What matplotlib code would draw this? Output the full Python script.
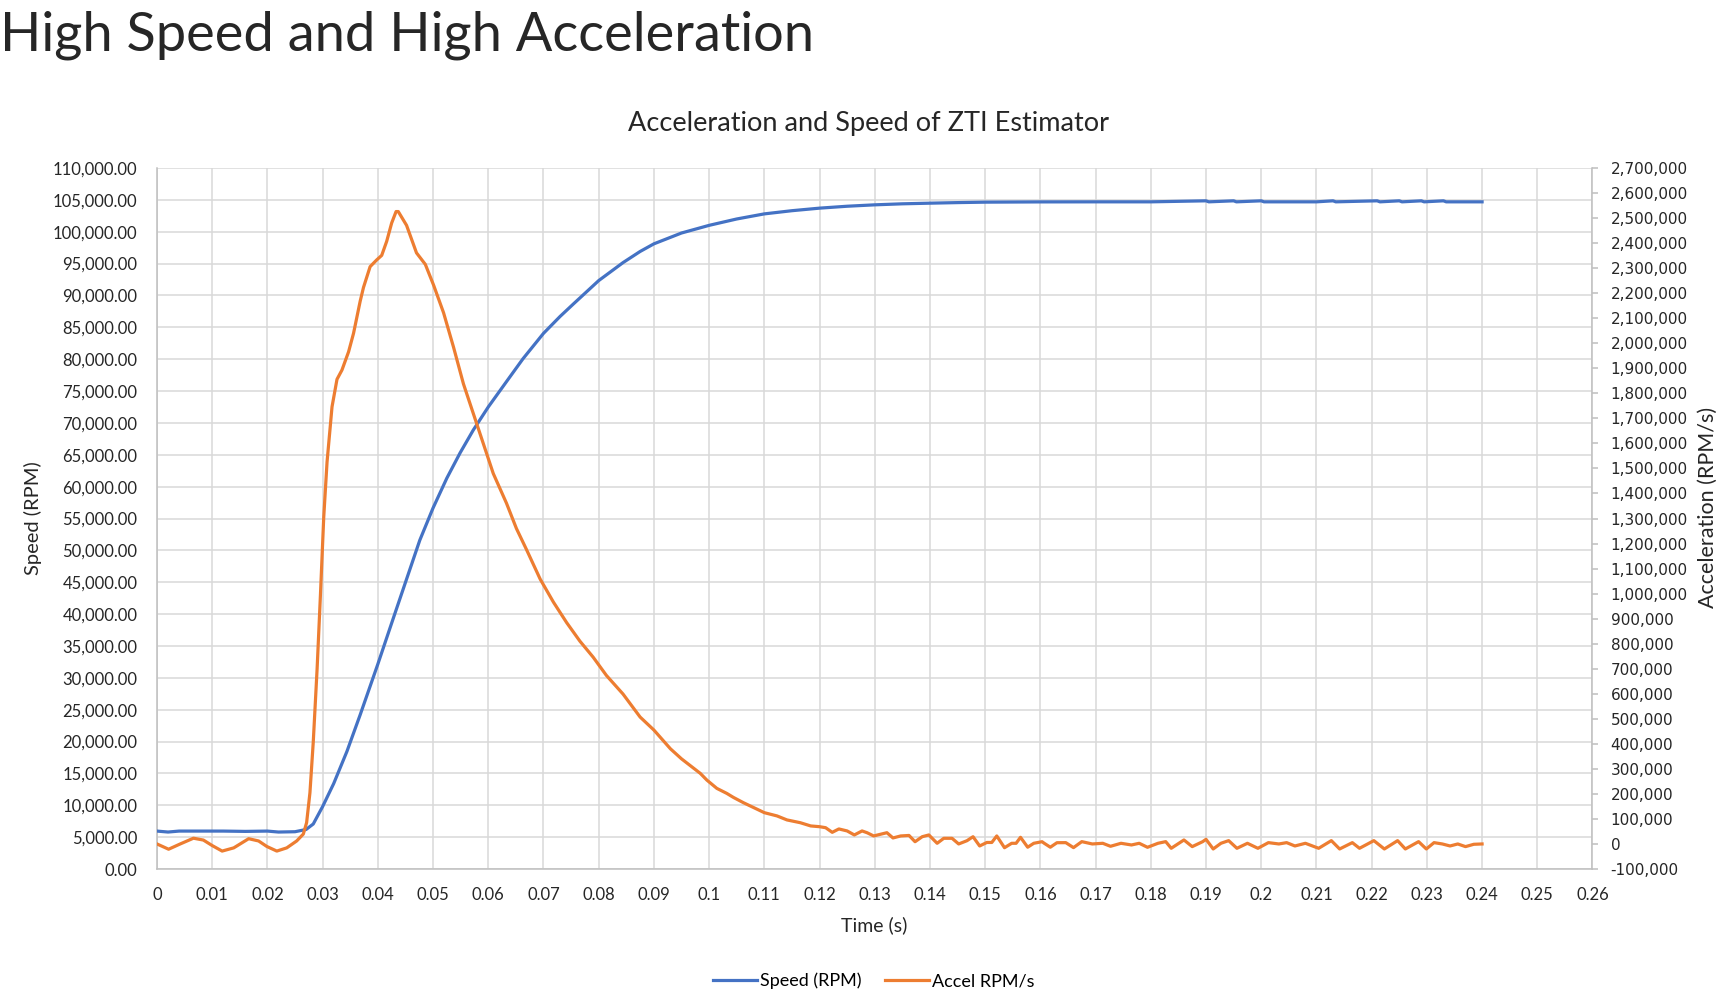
import matplotlib
matplotlib.use("Agg")
import matplotlib.pyplot as plt
from matplotlib.ticker import FuncFormatter, MultipleLocator

# Speed (RPM) samples
speed_t = [0, 0.002, 0.004, 0.008, 0.012, 0.016, 0.020, 0.022, 0.025, 0.027,
           0.0283, 0.030, 0.032, 0.0344, 0.0368, 0.040, 0.0428, 0.0452, 0.0476,
           0.050, 0.0525, 0.0549, 0.0573, 0.060, 0.0633, 0.0663, 0.070, 0.073,
           0.0754, 0.080, 0.0844, 0.0875, 0.090, 0.095, 0.100, 0.105, 0.110,
           0.115, 0.120, 0.125, 0.130, 0.135, 0.140, 0.145, 0.150, 0.160, 0.170,
           0.180, 0.190, 0.1905, 0.195, 0.1955, 0.200, 0.2005, 0.210, 0.213,
           0.2135, 0.221, 0.2215, 0.225, 0.2255, 0.229, 0.2295, 0.233, 0.2335, 0.240]
speed = [5950, 5800, 5950, 5950, 5950, 5900, 5950, 5800, 5850, 6200,
         7060, 9800, 13400, 18450, 24200, 32150, 39350, 45480, 51600,
         56650, 61340, 65300, 68900, 72500, 76480, 80080, 84050, 86700,
         88650, 92330, 95150, 96900, 98100, 99800, 101000, 102000, 102800,
         103300, 103700, 104000, 104220, 104380, 104480, 104570, 104640, 104680, 104690,
         104690, 104850, 104690, 104850, 104690, 104850, 104690, 104690, 104850,
         104690, 104850, 104690, 104850, 104690, 104850, 104690, 104850, 104690, 104690]

# Acceleration (RPM/s) samples
accel_t = [0, 0.0021, 0.0042, 0.0066, 0.0084, 0.010, 0.0118, 0.0139, 0.0166, 0.0184,
           0.0199, 0.0217, 0.0235, 0.0253, 0.0265, 0.0271, 0.0277, 0.0283, 0.029, 0.0296,
           0.0302, 0.0308, 0.0317, 0.0326, 0.0335, 0.0347, 0.0356, 0.0368, 0.0374, 0.0386,
           0.0398, 0.0407, 0.0416, 0.0425, 0.0433, 0.0437, 0.0452, 0.047, 0.0486, 0.0501,
           0.0519, 0.0537, 0.0555, 0.0573, 0.0591, 0.0609, 0.0633, 0.0651, 0.0669, 0.0694,
           0.0718, 0.0742, 0.0766, 0.079, 0.0814, 0.0844, 0.0875, 0.090, 0.093, 0.095,
           0.0984, 0.0996, 0.1014, 0.1032, 0.1044, 0.1062, 0.1081, 0.110, 0.1123, 0.1141,
           0.1165, 0.1184, 0.120, 0.1211, 0.1223, 0.1235, 0.125, 0.1263, 0.1277, 0.1286,
           0.1298, 0.1316, 0.1322, 0.1333, 0.1347, 0.1362, 0.1373, 0.1386, 0.1398, 0.1413,
           0.1425, 0.144, 0.1452, 0.1467, 0.1478, 0.149, 0.1503, 0.1512, 0.1521, 0.1535,
           0.1548, 0.1556, 0.1564, 0.1577, 0.1588, 0.1603, 0.1607, 0.1618, 0.163, 0.1646,
           0.166, 0.1675, 0.1694, 0.1713, 0.1727, 0.1746, 0.1765, 0.1779, 0.1794, 0.1813,
           0.1827, 0.1837, 0.186, 0.1875, 0.1894, 0.190, 0.1913, 0.1927, 0.1941, 0.1956,
           0.1975, 0.1994, 0.2013, 0.2032, 0.2046, 0.2061, 0.208, 0.2104, 0.2127, 0.2142,
           0.2165, 0.2178, 0.2204, 0.2223, 0.2247, 0.2261, 0.2285, 0.2299, 0.2313, 0.2328,
           0.2342, 0.2356, 0.237, 0.2385, 0.240]
accel = [0, -21000, 0, 23000, 15600, -6400, -28400, -15600, 21000, 12000,
         -10100, -28400, -15600, 12000, 39500, 85300, 204600, 406500, 700000, 993700,
         1305600, 1525800, 1746000, 1856000, 1893000, 1966000, 2040000, 2168000, 2223000, 2306000,
         2333000, 2351000, 2407000, 2480000, 2526000, 2526000, 2471000, 2361000, 2315000, 2232000,
         2122000, 1985000, 1838000, 1719000, 1599000, 1480000, 1361000, 1260000, 1177000, 1058000,
         966000, 884000, 810000, 746000, 673000, 599000, 507000, 455000, 380000, 340000,
         282000, 255000, 222000, 202000, 186000, 165000, 145000, 125000, 112000, 96000,
         85000, 72000, 69000, 65000, 46500, 60000, 52000, 36000, 52000, 45000,
         32000, 42000, 45000, 24000, 32000, 34000, 9000, 29000, 36000, 2700,
         22600, 22600, 0, 13000, 29000, -8000, 6000, 6000, 32000, -15000,
         2700, 2700, 26600, -13000, 2700, 9000, 2700, -13000, 5000, 5300,
         -14600, 9300, 0, 2700, -9300, 2700, -4000, 2700, -13300, 2700,
         9300, -17300, 16000, -10600, 9300, 18600, -20000, 2700, 13300, -17300,
         2700, -17300, 5300, 0, 5300, -8000, 2700, -17300, 13300, -20000,
         5300, -17300, 13300, -20000, 13300, -20000, 9300, -20000, 5300, 0,
         -8000, 0, -10600, -1300, 0]

BLUE = "#4472C4"
ORANGE = "#ED7D31"
GRID = "#d9d9d9"
AXIS = "#bfbfbf"
FONT = "Lato"

W, H = 1725, 998
fig = plt.figure(figsize=(W / 100, H / 100), dpi=100)
L, R, T, B = 157, 1592.5, 168, 869
ax = fig.add_axes([L / W, 1 - B / H, (R - L) / W, (B - T) / H])
ax2 = ax.twinx()

ax.plot(speed_t, speed, color=BLUE, lw=2.3, label="Speed (RPM)", zorder=3)
ax2.plot(accel_t, accel, color=ORANGE, lw=2.3, label="Accel RPM/s", zorder=3)

ax.set_xlim(0, 0.26)
ax.set_ylim(0, 110000)
ax2.set_ylim(-100000, 2700000)
ax.xaxis.set_major_locator(MultipleLocator(0.01))
ax.yaxis.set_major_locator(MultipleLocator(5000))
ax2.yaxis.set_major_locator(MultipleLocator(100000))
ax.xaxis.set_major_formatter(FuncFormatter(lambda v, p: "%g" % round(v, 2)))
ax.yaxis.set_major_formatter(FuncFormatter(lambda v, p: "{:,.2f}".format(v)))
ax2.yaxis.set_major_formatter(FuncFormatter(lambda v, p: "{:,.0f}".format(v)))

ax.grid(True, color=GRID, lw=1.1)
ax.set_axisbelow(True)
for s in ["top", "right"]:
    ax.spines[s].set_visible(False)
for s in ["top", "left", "bottom"]:
    ax2.spines[s].set_visible(False)
for s in ["left", "bottom"]:
    ax.spines[s].set_color(AXIS)
    ax.spines[s].set_linewidth(1.1)
ax2.spines["right"].set_color(AXIS)
ax2.spines["right"].set_linewidth(1.1)

ax.tick_params(axis="both", length=0, labelsize=12, labelcolor="#262626")
ax.tick_params(axis="y", pad=14)
ax.tick_params(axis="x", pad=13)
for lab in ax.get_xticklabels() + ax.get_yticklabels():
    lab.set_fontfamily(FONT)
ax2.tick_params(axis="y", length=4, width=1.1, color=AXIS, pad=9,
                labelsize=11, labelcolor="#262626")
for lab in ax2.get_yticklabels():
    lab.set_fontfamily("DejaVu Sans")

fig.text(0.0, 1 - 50 / H, "High Speed and High Acceleration", fontsize=39,
         family=FONT, weight="normal", va="baseline", ha="left", color="#262626")
fig.text(869 / W, 1 - 124 / H, "Acceleration and Speed of ZTI Estimator", fontsize=19.5,
         family=FONT, va="center", ha="center", color="#262626")
fig.text(874 / W, 1 - 925 / H, "Time (s)", fontsize=14, family=FONT,
         va="center", ha="center", color="#262626")
fig.text(33 / W, 1 - 518 / H, "Speed (RPM)", fontsize=14.5, family=FONT, rotation=90,
         va="center", ha="center", color="#262626")
fig.text(1708 / W, 1 - 507 / H, "Acceleration (RPM/s)", fontsize=15.5, family=FONT,
         rotation=90, va="center", ha="center", color="#262626")

h1, l1 = ax.get_legend_handles_labels()
h2, l2 = ax2.get_legend_handles_labels()
fig.legend(h1 + h2, l1 + l2, loc="center", bbox_to_anchor=(874 / W, 1 - 981 / H),
           ncol=2, frameon=False, prop={"family": FONT, "size": 13},
           handlelength=2.4, handletextpad=0.2, columnspacing=1.3)

fig.savefig("out.png", dpi=100)
